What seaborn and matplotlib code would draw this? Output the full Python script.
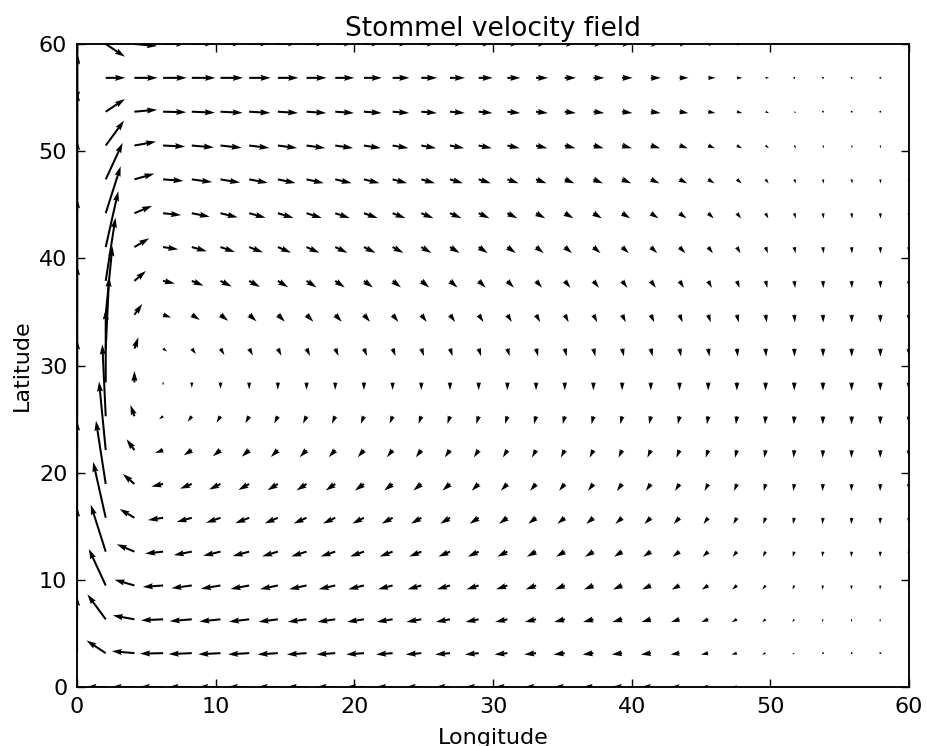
#!/usr/bin/env python

import numpy as np
import matplotlib
matplotlib.use('Agg')
import matplotlib.pyplot as plt
import seaborn as sns

# grid of the velocity field
lon = np.linspace(0, 60, 30)
lat = np.linspace(0, 60, 20)

# zonal shape of the east-west and north-south velocity
u_lon = [0.0, -19.5, -23.0, -23.5, -23.5, -22.5, -21.5, -20.5, -20.0, -19.0,
         -18.0, -16.8, -15.8, -15.0, -14.0, -13.0, -12.0, -11.3, -11.0, -10.5,
         -10.0, -9.0, -7.3, -5.5, -3.6, -2.0, -1.0, -0.6, -0.4, 0.0]
v_lon = [330.0, 73.0, 11.5, -3.0, -5.5, -6.5, -7.0, -7.3, -7.5, -7.5,
         -7.6, -7.6, -7.7, -7.7, -7.8, -7.8, -7.9, -7.9, -8.0, -8.0,
         -8.0, -8.1, -8.1, -8.2, -8.2, -8.2, -8.3, -8.3, -8.3, -8.3]

# meridional shape of the two components
u_lat = [1.0, 0.985, 0.94, 0.866, 0.766, 0.643, 0.5, 0.342, 0.174, 0.0,
         -0.174, -0.342, -0.5, -0.643, -0.766, -0.866, -0.94, -0.985, -1.0,
         -0.985]
v_lat = [0.0, 0.174, 0.342, 0.5, 0.643, 0.766, 0.866, 0.94, 0.985, 1.0,
         0.985, 0.94, 0.866, 0.766, 0.643, 0.5, 0.342, 0.174, 0.0, -0.174]


def main():
    sns.set_style('ticks', {'axes.edgecolor': 'black',
                            'axes.labelcolor': 'black',
                            'text.color': 'black',
                            'xtick.direction': 'in',
                            'ytick.direction': 'in',
                            'xtick.color': 'black',
                            'ytick.color': 'black'})
    plt.rcParams['font.family'] = ['DejaVu Sans']
    plt.rcParams['axes.linewidth'] = 1.35

    fig = plt.figure(figsize=(9.27, 7.46), dpi=100, facecolor='w')
    ax = fig.add_axes([0.0831, 0.0791, 0.8975, 0.8619])

    X, Y = np.meshgrid(lon, lat)
    U = np.outer(u_lat, u_lon)
    V = np.outer(v_lat, v_lon)
    ax.quiver(X, Y, U, V, angles='uv', scale_units='dots', scale=1,
              color='black')

    ax.set_xlim(0, 60)
    ax.set_ylim(0, 60)
    ax.set_xticks(np.arange(0, 61, 10))
    ax.set_yticks(np.arange(0, 61, 10))
    ax.tick_params(which='major', direction='in', length=5.5, width=1,
                   top=True, right=True, labelsize=16, pad=7,
                   labelcolor='black')
    ax.set_xlabel('Longitude', fontsize=16, labelpad=8)
    ax.set_ylabel('Latitude', fontsize=16, labelpad=5)
    ax.set_title('Stommel velocity field', fontsize=19, pad=6)

    fig.savefig('out.png', dpi=100)


if __name__ == '__main__':
    main()
